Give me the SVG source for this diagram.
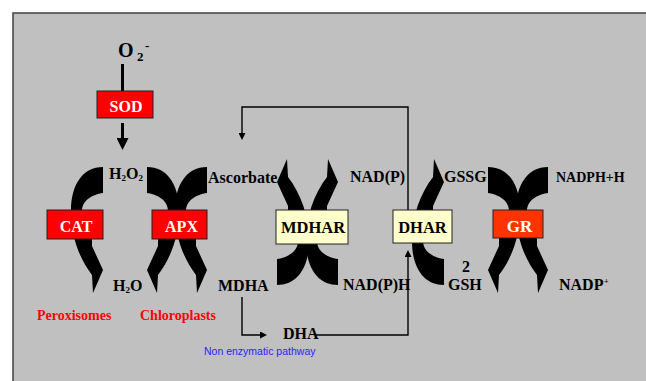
<svg xmlns="http://www.w3.org/2000/svg" width="646" height="381" viewBox="0 0 646 381">
<style>
.bg{fill:#C0C0C0;stroke:#404040;stroke-width:1.5}
.lbl{font-family:"Liberation Serif","Times New Roman",serif;font-weight:bold;font-size:16px;fill:#000}
.box{stroke:#222;stroke-width:1}
.red{fill:#FF0000}
.gr{fill:#FF3300}
.yel{fill:#FFFFCC}
.wt{fill:#FFFFFF;text-anchor:middle}
.bt{fill:#000;text-anchor:middle}
.loc{fill:#FF0000;font-size:14px}
.note{font-family:"Liberation Sans",Arial,sans-serif;font-size:10.5px;fill:#2626F0}
.thin{fill:none;stroke:#000;stroke-width:1.4}
.thick{fill:none;stroke:#000;stroke-width:3}
.band{fill:#000}
</style>
<defs>
<path id="arc" d="M0,1 C-20,1 -32,18 -32,45 C-32,70 -24,92 -11,109 L-10,127 L0,104 L-11,80 L-11,73 C-15,62 -21,52 -21,45 C-21,33 -8,28 0,27 Z"/>
<marker id="ah" viewBox="0 0 7 7" refX="0" refY="3.5" markerWidth="7" markerHeight="7" markerUnits="userSpaceOnUse" orient="auto">
<path d="M0,0 L7,3.5 L0,7 Z" fill="#000"/>
</marker>
<marker id="ahBig" viewBox="0 0 12 12" refX="0" refY="6" markerWidth="12" markerHeight="12" markerUnits="userSpaceOnUse" orient="auto">
<path d="M0,0 L12,6 L0,12 Z" fill="#000"/>
</marker>
</defs>

<rect class="bg" x="13" y="13" width="640" height="375"/>

<g id="connectors">
<line class="thick" x1="122.5" y1="64" x2="122.5" y2="91"/>
<line class="thick" x1="122.5" y1="123" x2="122.5" y2="138" marker-end="url(#ahBig)"/>
<use href="#arc" class="band" transform="translate(103,166)"/>
<use href="#arc" class="band" transform="translate(207,166)"/>
<use href="#arc" class="band" transform="translate(147,166) scale(-1,1)"/>
<use href="#arc" class="band" transform="translate(338,286) scale(1,-1)"/>
<use href="#arc" class="band" transform="translate(277,286) scale(-1,-1)"/>
<use href="#arc" class="band" transform="translate(444,286) scale(1,-1)"/>
<use href="#arc" class="band" transform="translate(548,166)"/>
<use href="#arc" class="band" transform="translate(488,166) scale(-1,1)"/>
<polyline class="thin" points="408,211 408,107 242,107 242,133" marker-end="url(#ah)"/>
<polyline class="thin" points="242,297 242,335 260,335" marker-end="url(#ah)"/>
<polyline class="thin" points="316,335 408,335 408,257" marker-end="url(#ah)"/>
</g>

<g id="O2"><text class="lbl" x="118" y="57" style="font-size:20px">O<tspan x="137" y="61" style="font-size:13px">2</tspan><tspan x="145" y="50" style="font-size:13px">-</tspan></text></g>
<g id="SOD"><rect class="box red" x="97" y="91" width="56" height="27"/><text class="lbl wt" x="126" y="112">SOD</text></g>
<g id="H2O2"><text class="lbl" x="109" y="179">H<tspan x="121.5" y="180.5" style="font-size:9px">2</tspan><tspan x="126" y="179">O</tspan><tspan x="138.5" y="180.5" style="font-size:9px">2</tspan></text></g>
<g id="Ascorbate"><text class="lbl" x="208" y="183">Ascorbate</text></g>
<g id="NADP_ox"><text class="lbl" x="350" y="182">NAD(P)</text></g>
<g id="GSSG"><text class="lbl" x="444" y="182">GSSG</text></g>
<g id="NADPH_H"><text class="lbl" x="556" y="182" style="font-size:14px">NADPH+H</text></g>

<g id="CAT"><rect class="box red" x="47" y="210" width="56" height="29"/><text class="lbl wt" x="76" y="232">CAT</text></g>
<g id="APX"><rect class="box red" x="152" y="210" width="55" height="29"/><text class="lbl wt" x="181.5" y="232">APX</text></g>
<g id="MDHAR"><rect class="box yel" x="276" y="210" width="72" height="34"/><text class="lbl bt" x="313" y="233" style="font-size:16.5px">MDHAR</text></g>
<g id="DHAR"><rect class="box yel" x="393" y="210" width="59" height="33"/><text class="lbl bt" x="422.5" y="233" style="font-size:16.5px">DHAR</text></g>
<g id="GR"><rect class="box gr" x="493" y="210" width="50" height="28"/><text class="lbl wt" x="519.5" y="232" style="font-size:17px">GR</text></g>

<g id="H2O"><text class="lbl" x="113" y="291">H<tspan x="125.5" y="292.5" style="font-size:9px">2</tspan><tspan x="130" y="291">O</tspan></text></g>
<g id="MDHA"><text class="lbl" x="218" y="291">MDHA</text></g>
<g id="NADPH_red"><text class="lbl" x="343" y="290">NAD(P)H</text></g>
<g id="GSH"><text class="lbl" x="462" y="272">2</text><text class="lbl" x="448" y="290">GSH</text></g>
<g id="NADP"><text class="lbl" x="559" y="290">NADP<tspan dx="0.5" dy="-6" style="font-size:8px">+</tspan></text></g>
<g id="DHA"><text class="lbl" x="283" y="339">DHA</text></g>

<g id="Peroxisomes"><text class="lbl loc" x="37" y="320">Peroxisomes</text></g>
<g id="Chloroplasts"><text class="lbl loc" x="140" y="320">Chloroplasts</text></g>
<g id="NonEnzymatic"><text class="note" x="204" y="355">Non enzymatic pathway</text></g>
</svg>
